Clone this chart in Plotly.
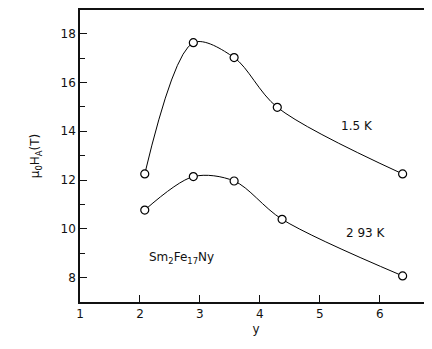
import plotly.graph_objects as go

y_content = [2.08, 2.89, 3.57, 4.29, 6.38]
h_15K = [12.25, 17.63, 17.02, 14.98, 12.25]
y_content_293 = [2.08, 2.89, 3.57, 4.37, 6.38]
h_293K = [10.77, 12.14, 11.96, 10.39, 8.07]

x_ticks = [1, 2, 3, 4, 5, 6]
y_ticks = [8, 10, 12, 14, 16, 18]

FONT = "DejaVu Sans"

fig = go.Figure()
for xs, ys in [(y_content, h_15K), (y_content_293, h_293K)]:
    fig.add_trace(go.Scatter(
        x=xs, y=ys, mode="lines+markers",
        line=dict(shape="spline", smoothing=0.9, color="black", width=1),
        marker=dict(symbol="circle", size=8, color="white",
                    line=dict(color="black", width=1.2)),
        showlegend=False,
    ))

fig.update_layout(
    width=424, height=341,
    margin=dict(l=72, r=0, t=2, b=47),
    plot_bgcolor="white", paper_bgcolor="white",
    font=dict(family=FONT, size=12, color="#111"),
)
fig.update_xaxes(
    range=[1, 6.87], tickvals=x_ticks, ticks="inside", ticklen=7,
    tickcolor="#111", showline=True, linecolor="#111", linewidth=1.5,
    mirror=True, showgrid=False, zeroline=False,
    title=dict(text="y", standoff=4, font=dict(size=12)),
)
fig.update_yaxes(
    range=[7, 18.97], tickvals=y_ticks, ticks="inside", ticklen=7,
    tickcolor="#111", showline=True, linecolor="#111", linewidth=1.5,
    showgrid=False, zeroline=False,
    minor=dict(dtick=1, tick0=7, ticks="inside", ticklen=5, tickcolor="#111"),
    title=dict(text="μ<sub>0</sub>H<sub>A</sub>(T)", standoff=18, font=dict(size=12)),
)

fig.add_annotation(x=5.62, y=14.2, text="1.5 K", showarrow=False,
                   font=dict(size=12))
fig.add_annotation(x=5.77, y=9.83, text="2 93 K", showarrow=False,
                   font=dict(size=12))
fig.add_annotation(x=2.69, y=8.8, text="Sm<sub>2</sub>Fe<sub>17</sub>Ny", showarrow=False,
                   font=dict(size=12))

fig.write_html("out.html")
